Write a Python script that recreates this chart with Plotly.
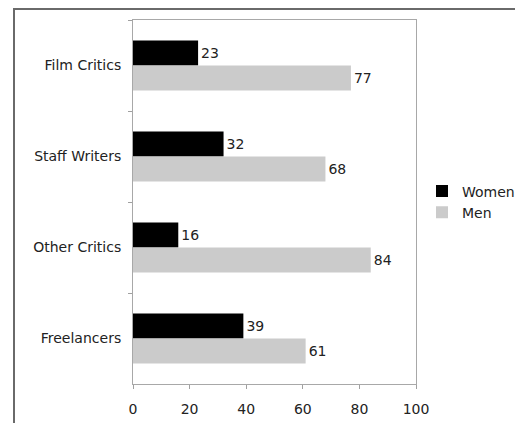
import plotly.graph_objects as go

categories = ["Film Critics", "Staff Writers", "Other Critics", "Freelancers"]
women = [23, 32, 16, 39]
men = [77, 68, 84, 61]
x_ticks = [0, 20, 40, 60, 80, 100]

OFF = 8  # page body margin
W, H = 523 - OFF, 423 - OFF
L, R, T, B = 133 - OFF, 416 - OFF, 20 - OFF, 384 - OFF

def fx(x):
    """figure pixel x -> paper x"""
    return (x - L) / (R - L)

def fy(y):
    """figure pixel y -> paper y"""
    return (B - y) / (B - T)

fam = "DejaVu Sans, Verdana, sans-serif"
font = dict(family=fam, size=14, color="#222222")

fig = go.Figure()
fig.add_trace(go.Bar(
    y=categories, x=women, name="Women", orientation="h",
    marker=dict(color="#000000", line=dict(width=0)),
    text=[str(v) for v in women], textposition="outside",
    textfont=dict(family=fam, size=14, color="#222222"),
    cliponaxis=False,
))
fig.add_trace(go.Bar(
    y=categories, x=men, name="Men", orientation="h",
    marker=dict(color="#cbcbcb", line=dict(width=0)),
    text=[str(v) for v in men], textposition="outside",
    textfont=dict(family=fam, size=14, color="#222222"),
    cliponaxis=False,
))

fig.update_layout(
    width=W, height=H,
    margin=dict(l=L, r=W - R, t=T, b=H - B, pad=0, autoexpand=False),
    paper_bgcolor="white", plot_bgcolor="white",
    font=font,
    barmode="group", bargap=0.45, bargroupgap=0,
    showlegend=True,
    legend=dict(x=fx(414), y=fy(194), xanchor="left", yanchor="middle",
                font=dict(size=14, color="#222222"), traceorder="normal",
                bgcolor="rgba(0,0,0,0)", itemwidth=30, tracegroupgap=0),
    xaxis=dict(range=[0, 100], tickvals=x_ticks, ticks="outside", ticklen=4,
               tickcolor="#a0a0a0", showgrid=False, zeroline=False,
               showline=True, linecolor="#a8a8a8", linewidth=1, mirror=True,
               ticklabelstandoff=8,
               tickfont=dict(size=14, color="#222222")),
    yaxis=dict(autorange="reversed", ticks="outside", ticklen=4,
               tickson="boundaries", tickcolor="#a0a0a0", showgrid=False,
               showline=True, linecolor="#a8a8a8", linewidth=1, mirror=True,
               ticklabelstandoff=8,
               tickfont=dict(size=14, color="#222222")),
    shapes=[
        dict(type="line", xref="paper", yref="paper",
             x0=fx(5), x1=fx(W), y0=fy(1), y1=fy(1),
             line=dict(color="#6a6a6a", width=2)),
        dict(type="line", xref="paper", yref="paper",
             x0=fx(6), x1=fx(6), y0=fy(0), y1=fy(H),
             line=dict(color="#6a6a6a", width=2)),
    ],
)

fig.write_html("out.html")
